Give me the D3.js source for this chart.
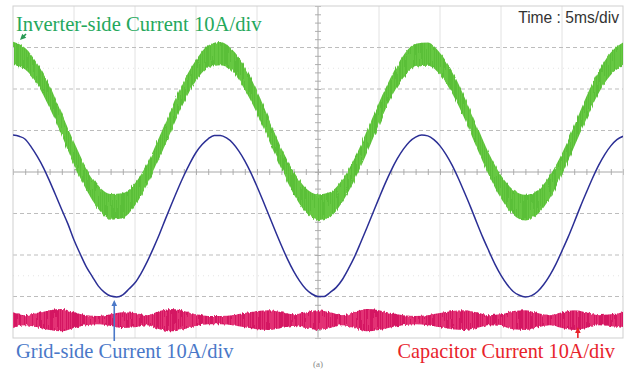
<!DOCTYPE html>
<html>
<head>
<meta charset="utf-8">
<script src="https://cdn.jsdelivr.net/npm/d3@7"></script>
<style>
  html, body { margin: 0; padding: 0; background: #fff; }
  svg { display: block; }
</style>
</head>
<body>
<svg id="chart" width="631" height="369"></svg>
<script>
// Time base: 5 ms/div over 10 divisions; vertical: 8 divisions (10 A/div).
const timeTicks = [0, 5, 10, 15, 20, 25, 30, 35, 40, 45, 50];
const divTicks = [-4, -3, -2, -1, 0, 1, 2, 3, 4];

// Sample times (ms)
const tCoarse = d3.range(0, 50.001, 1);
const tFine = d3.range(0, 50.001, 0.5);

// Inverter-side current: upper / lower edge of the ripple band (divisions), every 1 ms
const inverterHi = [3.14, 2.99, 2.61, 2.08, 1.40, 0.72, 0.10, -0.33, -0.53, -0.51, -0.27,
  0.20, 0.85, 1.55, 2.19, 2.70, 3.05, 3.13, 2.94, 2.54, 1.95, 1.26, 0.57, 0.01, -0.39,
  -0.54, -0.48, -0.18, 0.33, 0.99, 1.67, 2.30, 2.81, 3.09, 3.12, 2.87, 2.43, 1.81, 1.13,
  0.45, -0.08, -0.43, -0.55, -0.44, -0.09, 0.45, 1.11, 1.82, 2.42, 2.88, 3.12];
const inverterLo = [2.58, 2.47, 2.11, 1.54, 0.88, 0.18, -0.42, -0.89, -1.15, -1.11, -0.81,
  -0.30, 0.33, 1.01, 1.67, 2.20, 2.51, 2.57, 2.42, 1.98, 1.41, 0.74, 0.07, -0.53, -0.97,
  -1.16, -1.08, -0.72, -0.19, 0.45, 1.15, 1.80, 2.27, 2.53, 2.56, 2.35, 1.89, 1.29, 0.59,
  -0.07, -0.64, -1.03, -1.17, -1.02, -0.63, -0.07, 0.61, 1.28, 1.90, 2.34, 2.56];

// Grid-side current (divisions), every 0.5 ms
const gridSide = [
  0.89, 0.86, 0.79, 0.60, 0.37, 0.10, -0.22, -0.56, -0.91, -1.25, -1.64, -1.97,
  -2.28, -2.52, -2.75, -2.90, -2.99, -3.01, -2.96, -2.82, -2.67, -2.44, -2.16, -1.84,
  -1.50, -1.13, -0.77, -0.42, -0.09, 0.21, 0.47, 0.66, 0.80, 0.88, 0.88, 0.82,
  0.70, 0.51, 0.27, -0.02, -0.35, -0.70, -1.06, -1.42, -1.77, -2.10, -2.39, -2.63,
  -2.82, -2.94, -3.00, -3.00, -2.90, -2.78, -2.59, -2.33, -2.04, -1.70, -1.35, -0.99,
  -0.63, -0.28, 0.04, 0.32, 0.55, 0.73, 0.84, 0.89, 0.87, 0.78, 0.63, 0.42,
  0.16, -0.15, -0.49, -0.84, -1.21, -1.57, -1.90, -2.22, -2.49, -2.71, -2.88, -2.97,
  -3.01, -2.98, -2.88, -2.71, -2.49, -2.22, -1.90, -1.57, -1.21, -0.84, -0.49, -0.15,
  0.16, 0.42, 0.63, 0.78, 0.86];

// Capacitor current: band level and ripple half-width (divisions), every 1 ms
const capLevel = -3.57;
const capRipple = [0.19, 0.12, 0.17, 0.24, 0.27, 0.19, 0.12, 0.10, 0.14, 0.19, 0.17, 0.12,
  0.22, 0.27, 0.22, 0.14, 0.10, 0.10, 0.12, 0.17, 0.22, 0.24, 0.19, 0.14, 0.19, 0.24, 0.19,
  0.12, 0.19, 0.27, 0.24, 0.17, 0.12, 0.10, 0.12, 0.17, 0.22, 0.24, 0.19, 0.12, 0.14, 0.22,
  0.24, 0.17, 0.12, 0.19, 0.24, 0.19, 0.12, 0.14, 0.19];

const svg = d3.select("#chart");
const x = d3.scaleLinear().domain([0, 50]).range([13, 623]);
const y = d3.scaleLinear().domain([-4, 4]).range([338, 6]);

const defs = svg.append("defs");
function hatch(id, base, stroke) {
  const p = defs.append("pattern").attr("id", id).attr("patternUnits", "userSpaceOnUse")
    .attr("width", 2).attr("height", 6);
  p.append("rect").attr("width", 2).attr("height", 6).attr("fill", base);
  p.append("line").attr("x1", 0.5).attr("x2", 0.5).attr("y1", 0).attr("y2", 6)
    .attr("stroke", stroke).attr("stroke-width", 1);
}
hatch("greenHatch", "#66c843", "#5abf38");
hatch("redHatch", "#e33075", "#d41862");

// Switching-ripple edge texture
const rough = defs.append("filter").attr("id", "ripple")
  .attr("x", "-2%").attr("y", "-10%").attr("width", "104%").attr("height", "120%");
rough.append("feTurbulence").attr("type", "fractalNoise").attr("baseFrequency", "0.8 0.02")
  .attr("numOctaves", 2).attr("seed", 3).attr("result", "n");
rough.append("feDisplacementMap").attr("in", "SourceGraphic").attr("in2", "n")
  .attr("scale", 3.5).attr("xChannelSelector", "R").attr("yChannelSelector", "G");

defs.append("clipPath").attr("id", "plotClip").append("rect")
  .attr("x", 13).attr("y", 6).attr("width", 610).attr("height", 332);

// Grid
const grid = svg.append("g");
grid.selectAll("line.v").data(timeTicks.slice(1, -1).filter(d => d !== 25)).join("line")
  .attr("x1", d => x(d)).attr("x2", d => x(d)).attr("y1", y(4)).attr("y2", y(-4))
  .attr("stroke", "#e2e2e2").attr("stroke-width", 1);
grid.selectAll("line.h").data(divTicks.filter(d => d !== 0 && Math.abs(d) !== 4)).join("line")
  .attr("x1", x(0)).attr("x2", x(50)).attr("y1", d => y(d)).attr("y2", d => y(d))
  .attr("stroke", "#bdbdbd").attr("stroke-width", 1).attr("stroke-dasharray", "4,3");
// faint half-division dotted lines
grid.selectAll("line.m").data([2.5, -2.5]).join("line")
  .attr("x1", x(0)).attr("x2", x(50)).attr("y1", d => y(d)).attr("y2", d => y(d))
  .attr("stroke", "#e4e4e4").attr("stroke-width", 1).attr("stroke-dasharray", "1,4");

// Centre axes with minor ticks
const hAxis = d3.axisBottom(x).tickValues(d3.range(0, 50.001, 1)).tickSize(6).tickFormat("");
grid.append("g").attr("transform", `translate(0,${y(0) - 3})`).call(hAxis)
  .call(g => g.select(".domain").remove())
  .call(g => g.selectAll("line").attr("stroke", "#b0b0b0"));
grid.append("line").attr("x1", x(0)).attr("x2", x(50)).attr("y1", y(0)).attr("y2", y(0))
  .attr("stroke", "#a8a8a8");
const vAxis = d3.axisLeft(y).tickValues(d3.range(-4, 4.001, 0.2)).tickSize(6).tickFormat("");
grid.append("g").attr("transform", `translate(${x(25) + 3},0)`).call(vAxis)
  .call(g => g.select(".domain").remove())
  .call(g => g.selectAll("line").attr("stroke", "#b0b0b0"));
grid.append("line").attr("x1", x(25)).attr("x2", x(25)).attr("y1", y(4)).attr("y2", y(-4))
  .attr("stroke", "#a8a8a8");

// Frame
svg.append("rect").attr("x", x(0)).attr("y", y(4)).attr("width", x(50) - x(0))
  .attr("height", y(-4) - y(4)).attr("fill", "none").attr("stroke", "#cfcfcf");

const traces = svg.append("g").attr("clip-path", "url(#plotClip)");

// Capacitor current band
traces.append("path")
  .datum(tCoarse.map((t, i) => [t, capRipple[i]]))
  .attr("fill", "url(#redHatch)").attr("filter", "url(#ripple)")
  .attr("d", d3.area().curve(d3.curveMonotoneX)
    .x(d => x(d[0])).y0(d => y(capLevel - d[1])).y1(d => y(capLevel + d[1])));

// Inverter-side current band
traces.append("path")
  .datum(tCoarse.map((t, i) => [t, inverterLo[i], inverterHi[i]]))
  .attr("fill", "url(#greenHatch)").attr("filter", "url(#ripple)")
  .attr("d", d3.area().curve(d3.curveMonotoneX)
    .x(d => x(d[0])).y0(d => y(d[1])).y1(d => y(d[2])));

// Grid-side current
traces.append("path")
  .datum(tFine.map((t, i) => [t, gridSide[i]]))
  .attr("fill", "none").attr("stroke", "#2b2f95").attr("stroke-width", 1.5)
  .attr("d", d3.line().curve(d3.curveMonotoneX).x(d => x(d[0])).y(d => y(d[1])));

// Annotations
function arrow(x1, y1, x2, y2, color) {
  const a = Math.atan2(y2 - y1, x2 - x1), L = 6, W = 2.8;
  svg.append("line").attr("x1", x1).attr("y1", y1).attr("x2", x2 - Math.cos(a) * 3)
    .attr("y2", y2 - Math.sin(a) * 3).attr("stroke", color).attr("stroke-width", 1.6);
  const p1 = [x2 - L * Math.cos(a) + W * Math.sin(a), y2 - L * Math.sin(a) - W * Math.cos(a)];
  const p2 = [x2 - L * Math.cos(a) - W * Math.sin(a), y2 - L * Math.sin(a) + W * Math.cos(a)];
  svg.append("path").attr("d", `M${x2},${y2}L${p1}L${p2}Z`).attr("fill", color);
}
arrow(26, 34, 20, 40, "#2a9a55");
arrow(x(8.3), 341, x(8.3), y(-3.01) + 3, "#4a78c8");
arrow(x(46.3), 338, x(46.3), 327, "#e8232b");

svg.append("text").attr("x", 16).attr("y", 31)
  .attr("font-family", "Liberation Serif").attr("font-size", 20.6).attr("fill", "#25a85c")
  .text("Inverter-side Current 10A/div");
svg.append("text").attr("x", 619).attr("y", 23).attr("text-anchor", "end")
  .attr("font-family", "Liberation Sans").attr("font-size", 15.6).attr("fill", "#333")
  .text("Time : 5ms/div");
svg.append("text").attr("x", 16).attr("y", 358)
  .attr("font-family", "Liberation Serif").attr("font-size", 20.5).attr("fill", "#4a78c8")
  .text("Grid-side Current 10A/div");
svg.append("text").attr("x", 615).attr("y", 358).attr("text-anchor", "end")
  .attr("font-family", "Liberation Serif").attr("font-size", 20.3).attr("fill", "#e8232b")
  .text("Capacitor Current 10A/div");
svg.append("text").attr("x", 318).attr("y", 367).attr("text-anchor", "middle")
  .attr("font-family", "Liberation Serif").attr("font-size", 9).attr("fill", "#888")
  .text("(a)");
</script>
</body>
</html>
